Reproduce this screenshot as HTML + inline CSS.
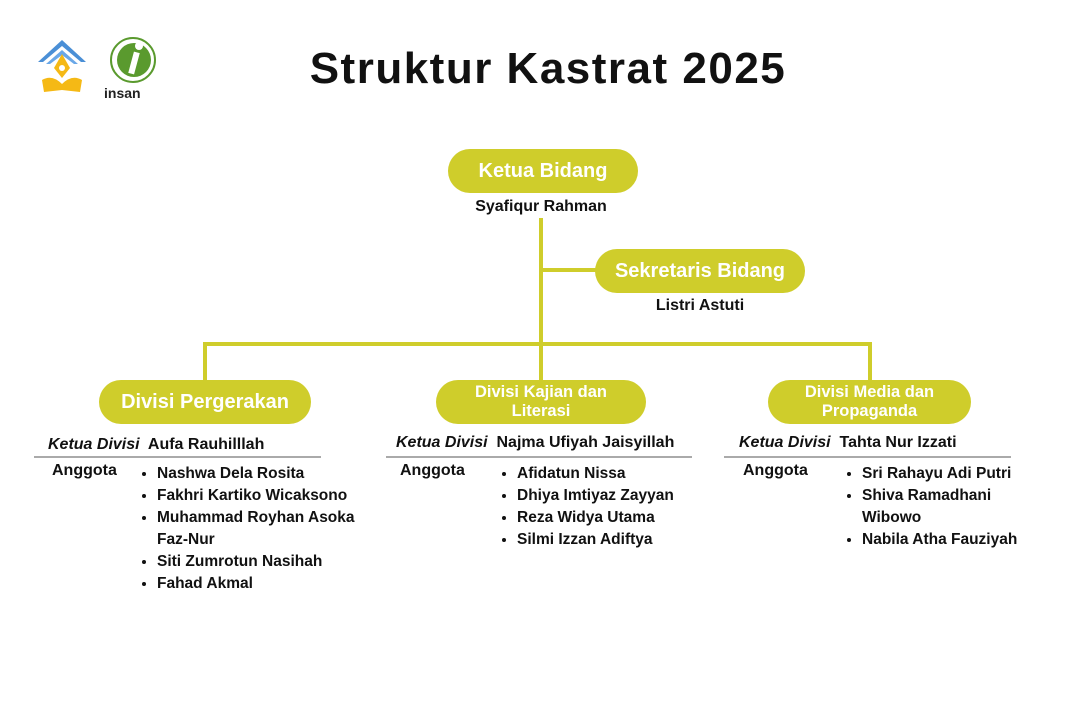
<!DOCTYPE html>
<html><head><meta charset="utf-8"><style>
body{margin:0;width:1080px;height:720px;background:#fff;position:relative;overflow:hidden;font-family:"Liberation Sans",sans-serif;color:#111}
.a{position:absolute}
.box{position:absolute;background:#cfcd2b;color:#fff;font-weight:bold;border-radius:22px;display:flex;align-items:center;justify-content:center;text-align:center;line-height:19px}
.ln{position:absolute;background:#cfcd2b}
.t{position:absolute;font-weight:bold;font-size:16px;white-space:nowrap}
.hr{position:absolute;height:2px;background:#aaa}
ul{position:absolute;margin:0;padding-left:20px;font-weight:bold;font-size:15.5px;line-height:22px}
</style></head><body>
<svg class="a" style="left:36px;top:38px" width="52" height="56" viewBox="0 0 52 56">
<path d="M2 24 L26 2 L50 24 L45 24 L26 8 L7 24Z" fill="#4a8fd6"/>
<path d="M10 26 L26 12 L42 26 L38 26 L26 17 L14 26Z" fill="#6aa8e8"/>
<path d="M26 16 L34 30 L26 40 L18 30Z" fill="#f5b915"/>
<circle cx="26" cy="30" r="3" fill="#fff"/>
<path d="M6 42 Q16 36 26 46 Q36 36 46 42 L44 54 L26 52 L8 54Z" fill="#f5b915"/>
</svg>
<svg class="a" style="left:102px;top:36px" width="58" height="66" viewBox="0 0 58 66">
<circle cx="31" cy="24" r="22" fill="#fff" stroke="#5a9a2e" stroke-width="2"/>
<circle cx="32" cy="24" r="17" fill="#5a9a2e"/>
<rect x="29" y="16" width="6" height="22" fill="#fff" transform="rotate(15 32 27)"/>
<circle cx="37" cy="10" r="4" fill="#fff"/>
<text x="2" y="62" font-family="Liberation Sans" font-weight="bold" font-size="14" fill="#222">insan</text>
</svg>
<div class="t" style="left:0;width:1096px;top:44px;text-align:center;font-size:44px;font-weight:900;letter-spacing:1.5px">Struktur Kastrat 2025</div>

<div class="ln" style="left:539px;top:218px;width:4px;height:128px"></div>
<div class="ln" style="left:541px;top:268px;width:60px;height:4px"></div>
<div class="ln" style="left:203px;top:342px;width:669px;height:4px"></div>
<div class="ln" style="left:203px;top:342px;width:4px;height:40px"></div>
<div class="ln" style="left:539px;top:342px;width:4px;height:40px"></div>
<div class="ln" style="left:868px;top:342px;width:4px;height:40px"></div>

<div class="box" style="left:448px;top:149px;width:190px;height:44px;font-size:20px">Ketua Bidang</div>
<div class="t" style="left:441px;width:200px;text-align:center;top:198px">Syafiqur Rahman</div>
<div class="box" style="left:595px;top:249px;width:210px;height:44px;font-size:20px">Sekretaris Bidang</div>
<div class="t" style="left:600px;width:200px;text-align:center;top:297px">Listri Astuti</div>

<div class="box" style="left:99px;top:380px;width:212px;height:44px;font-size:20px">Divisi Pergerakan</div>
<div class="box" style="left:436px;top:380px;width:210px;height:44px;font-size:16.5px">Divisi Kajian dan<br>Literasi</div>
<div class="box" style="left:768px;top:380px;width:203px;height:44px;font-size:16.5px">Divisi Media dan<br>Propaganda</div>

<div class="t" style="left:48px;top:436px"><i>Ketua Divisi</i>&nbsp; Aufa Rauhilllah</div>
<div class="hr" style="left:34px;top:456px;width:287px"></div>
<div class="t" style="left:52px;top:462px">Anggota</div>
<ul style="left:137px;top:463px"><li>Nashwa Dela Rosita</li><li>Fakhri Kartiko Wicaksono</li><li>Muhammad Royhan Asoka<br>Faz-Nur</li><li>Siti Zumrotun Nasihah</li><li>Fahad Akmal</li></ul>

<div class="t" style="left:396px;top:434px"><i>Ketua Divisi</i>&nbsp; Najma Ufiyah Jaisyillah</div>
<div class="hr" style="left:386px;top:456px;width:306px"></div>
<div class="t" style="left:400px;top:462px">Anggota</div>
<ul style="left:497px;top:463px"><li>Afidatun Nissa</li><li>Dhiya Imtiyaz Zayyan</li><li>Reza Widya Utama</li><li>Silmi Izzan Adiftya</li></ul>

<div class="t" style="left:739px;top:434px"><i>Ketua Divisi</i>&nbsp; Tahta Nur Izzati</div>
<div class="hr" style="left:724px;top:456px;width:287px"></div>
<div class="t" style="left:743px;top:462px">Anggota</div>
<ul style="left:842px;top:463px"><li>Sri Rahayu Adi Putri</li><li>Shiva Ramadhani<br>Wibowo</li><li>Nabila Atha Fauziyah</li></ul>
</body></html>
